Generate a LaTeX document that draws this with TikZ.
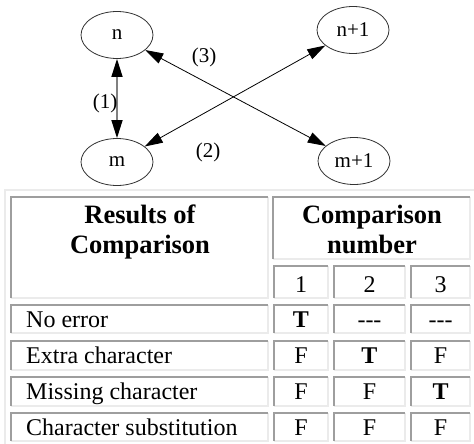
\documentclass[tikz,border=0pt]{standalone}
\usepackage{fontspec}
\setmainfont{Liberation Serif}
\newfontfamily\tf{Liberation Serif}
\usetikzlibrary{shapes.geometric,arrows.meta}
\begin{document}
\begin{tikzpicture}[x=1pt,y=-1pt,
  ell/.style={draw=black!80,line width=0.8pt,ellipse,minimum width=72pt,minimum height=47pt,inner sep=0pt,font=\tf\fontsize{21}{22}\selectfont},
  dbl/.style={line width=0.8pt,{Triangle[length=18pt,width=11pt,color=black]}-{Triangle[length=18pt,width=11pt,color=black]}},
  lbl/.style={font=\tf\fontsize{21}{22}\selectfont,inner sep=0pt},
  hd/.style={font=\tf\bfseries\fontsize{26.5}{30}\selectfont,inner sep=0pt,anchor=base},
  tx/.style={font=\tf\fontsize{24}{26}\selectfont,inner sep=0pt,anchor=base},
  txb/.style={font=\tf\bfseries\fontsize{24}{26}\selectfont,inner sep=0pt,anchor=base},
  dk/.style={draw=black!38,line width=1.6pt},
  lt/.style={draw=black!8,line width=1.6pt}]
\useasboundingbox[fill=white] (0,0) rectangle (474,444);
% diagram
\node[ell] (n) at (117,35) {n};
\node[ell] (m) at (117,162) {m};
\node[ell] (n1) at (353,30) {n+1};
\node[ell] (m1) at (354,161) {m+1};
\draw[dbl,draw=black!50,line width=1.5pt] (n) -- (m);
\draw[dbl] (n) -- (m1);
\draw[dbl] (m) -- (n1);
\node[lbl] (l1) at (105,103) {(1)};
\node[lbl] (l3) at (204,57) {(3)};
\node[lbl] (l2) at (208,152) {(2)};
% table outer border
\draw[draw=black!8,line width=1.2pt] (5,444) -- (5,190) -- (474,190);
% cells
\newcommand{\mycell}[4]{%
  \draw[lt] (#1,#4) -- (#3,#4) -- (#3,#2);
  \draw[dk] (#1,#4) -- (#1,#2) -- (#3,#2);}
\mycell{11}{197}{268}{298}
\mycell{273}{197}{470}{259}
\mycell{274}{266}{328}{298}
\mycell{334}{266}{405}{298}
\mycell{411}{266}{470}{298}
\foreach \ya/\yb in {305/333,341/370,377/406,413/441}{
  \mycell{11}{\ya}{268}{\yb}
  \mycell{274}{\ya}{328}{\yb}
  \mycell{334}{\ya}{405}{\yb}
  \mycell{411}{\ya}{470}{\yb}
}
% header texts
\node[hd] (h1a) at (140,223) {Results of};
\node[hd] (h1b) at (140,253) {Comparison};
\node[hd] (h2a) at (372,223) {Comparison};
\node[hd] (h2b) at (372,253) {number};
\node[tx] (c1) at (301,292) {1};
\node[tx] (c2) at (369.5,292) {2};
\node[tx] (c3) at (440.5,292) {3};
% rows
\node[tx,anchor=base west] (r1) at (26,327) {No error};
\node[tx,anchor=base west] (r2) at (26,363) {Extra character};
\node[tx,anchor=base west] (r3) at (26,399) {Missing character};
\node[tx,anchor=base west] (r4) at (26,435) {Character substitution};
\node[txb] (v11) at (301,327) {T};
\node[tx] (v12) at (369.5,327) {---};
\node[tx] (v13) at (440.5,327) {---};
\node[tx] (v21) at (301,363) {F};
\node[txb] (v22) at (369.5,363) {T};
\node[tx] (v23) at (440.5,363) {F};
\node[tx] (v31) at (301,399) {F};
\node[tx] (v32) at (369.5,399) {F};
\node[txb] (v33) at (440.5,399) {T};
\node[tx] (v41) at (301,435) {F};
\node[tx] (v42) at (369.5,435) {F};
\node[tx] (v43) at (440.5,435) {F};
\end{tikzpicture}
\end{document}
